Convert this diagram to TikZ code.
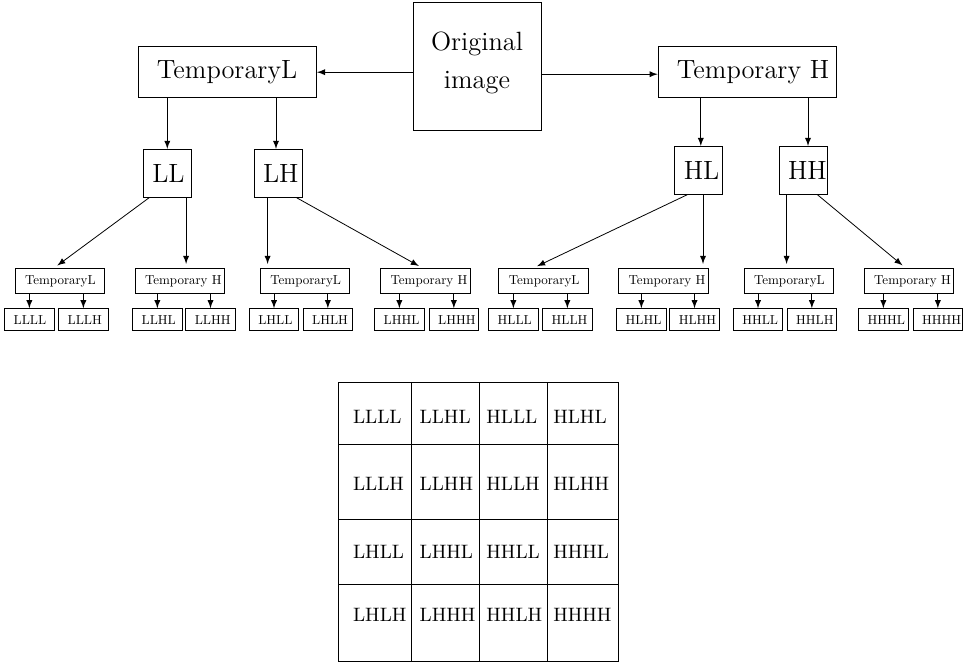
\documentclass[tikz,border=0pt]{standalone}
\usepackage{amsmath}
\usepackage{fontspec}
\usepackage{tikz}

\newfontfamily\lmten{lmroman10-regular}[Extension=.otf]
\hyphenpenalty=10000
\tikzset{
	bigbox/.style={draw, align=left, font=\fontsize{13.2}{16}\selectfont,
		inner xsep=9.5pt, text width=70.35pt, minimum height=25.5pt},
	midbox/.style={draw, align=left, font=\fontsize{13.2}{16}\selectfont,
		inner xsep=4.5pt, text width=15pt, minimum height=24pt},
	tmpbox/.style={draw, align=left, font=\lmten\fontsize{6.5}{8}\selectfont,
		inner xsep=5pt, text width=34.65pt, minimum height=12.7pt},
	leafbox/.style={draw, align=left, font=\lmten\fontsize{6.5}{8}\selectfont,
		inner xsep=4.5pt, text width=15.65pt, minimum height=10.35pt},
	cell/.style={anchor=base west, inner sep=0pt, font=\fontsize{9.7}{12}\selectfont},
}

\begin{document}
\begin{tikzpicture}[x=0.5pt, y=-0.5pt, >=latex]
			\useasboundingbox (0,0) rectangle (968,662);

			% Top row
			\node[draw, align=center, minimum size=64pt, text depth=6pt, font=\fontsize{13.2}{18.8}\selectfont] (orig) at (477,66) {Original\\image};
			\node[bigbox] (tL) at (227.3,72.2) {TemporaryL};
			\node[bigbox] (tH) at (747.3,72.2) {Temporary~H};
			\draw[->] (orig.west |- tL.east) -- (tL.east);
			\draw[->] ([yshift=-1pt]orig.east |- tH.west) -- ([yshift=-1pt]tH.west);

			% Second row
			\node[midbox] (LL) at (167.3,173.2) {LL};
			\node[midbox] (LH) at (278,173.2) {LH};
			\node[midbox] (HL) at (698.8,170.3) {HL};
			\node[midbox] (HH) at (803,170.3) {HH};
			\draw[->] (tL.south -| LL.north) -- (LL.north);
			\draw[->] ([xshift=-1pt]tL.south -| LH.north) -- ([xshift=-1pt]LH.north);
			\draw[->] ([xshift=1pt]tH.south -| HL.north) -- ([xshift=1pt]HL.north);
			\draw[->] ([xshift=2.5pt]tH.south -| HH.north) -- ([xshift=2.5pt]HH.north);

			% Temporary boxes
			\node[tmpbox] (LLtL) at (59.7,281) {TemporaryL};
			\node[tmpbox] (LLtH) at (179.7,281) {Temporary~H};
			\node[tmpbox] (LHtL) at (305,281) {TemporaryL};
			\node[tmpbox] (LHtH) at (425.3,281) {Temporary~H};
			\node[tmpbox] (HLtL) at (543.5,281) {TemporaryL};
			\node[tmpbox] (HLtH) at (663.3,281) {Temporary~H};
			\node[tmpbox] (HHtL) at (788.7,281) {TemporaryL};
			\node[tmpbox] (HHtH) at (908.8,281) {Temporary~H};
			\draw[->, shorten >=2pt] ([xshift=3.2pt]LL.south west) -- ([xshift=-2.8pt]LLtL.north);
			\draw[->, shorten >=2pt] ([xshift=-2.8pt]LL.south east) -- ([xshift=-2.8pt]LL.south east |- LLtH.north);
			\draw[->, shorten >=2pt] ([xshift=7pt]LH.south west) -- ([xshift=7pt]LH.south west |- LHtL.north);
			\draw[->, shorten >=2pt] ([xshift=-3pt]LH.south east) -- ([xshift=-1.5pt]LHtH.north);
			\draw[->, shorten >=2pt] ([xshift=-5.75pt]HL.south) -- ([xshift=-5pt]HLtL.north);
			\draw[->, shorten >=2pt] ([xshift=2.1pt]HL.south) -- ([xshift=2.1pt]HL.south |- HLtH.north);
			\draw[->, shorten >=2pt] ([xshift=4pt]HH.south west) -- ([xshift=4pt]HH.south west |- HHtL.north);
			\draw[->, shorten >=2pt] ([xshift=-5pt]HH.south east) -- ([xshift=-1.65pt]HHtH.north);

			% Leaves
			\foreach \name/\x in {LLLL/29.35, LLLH/83.35, LLHL/157.35, LLHH/210.5,
				LHLL/274, LHLH/327.85, LHHL/399.35, LHHH/453.85,
				HLLL/513.35, HLLH/567.35, HLHL/641.35, HLHH/694.5,
				HHLL/758, HHLH/811.85, HHHL/883.35, HHHH/937.85}
				\node[leafbox] (\name) at (\x,319.7) {\name};
			\foreach \t/\a/\b in {LLtL/LLLL/LLLH, LLtH/LLHL/LLHH, LHtL/LHLL/LHLH, LHtH/LHHL/LHHH,
				HLtL/HLLL/HLLH, HLtH/HLHL/HLHH, HHtL/HHLL/HHLH, HHtH/HHHL/HHHH} {
				\draw[->] (\t.south -| \a.north) -- (\a.north);
				\draw[->] (\t.south -| \b.north) -- (\b.north);
			}

			% Table
			\draw (338.5,382.3) rectangle (618,661);
			\draw (411.7,382.3) -- (411.7,661);
			\draw (479.2,382.3) -- (479.2,661);
			\draw (547,382.3) -- (547,661);
			\draw (338.5,444) -- (618,444);
			\draw (338.5,519.3) -- (618,519.3);
			\draw (338.5,584) -- (618,584);
			\foreach \a/\b/\c/\d/\y in {LLLL/LLHL/HLLL/HLHL/423.3, LLLH/LLHH/HLLH/HLHH/490,
				LHLL/LHHL/HHLL/HHHL/558.3, LHLH/LHHH/HHLH/HHHH/621.7} {
				\node[cell] (c-\a) at (352.7,\y) {\a};
				\node[cell] (c-\b) at (419.3,\y) {\b};
				\node[cell] (c-\c) at (486,\y) {\c};
				\node[cell] (c-\d) at (552.9,\y) {\d};
			}
		\end{tikzpicture}
\end{document}
